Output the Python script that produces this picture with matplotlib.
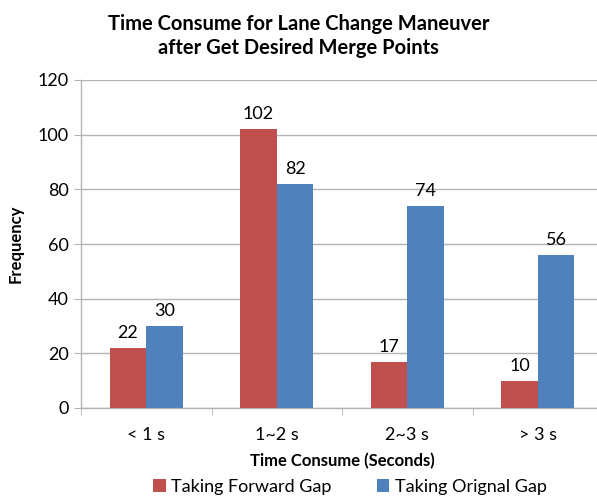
import matplotlib
matplotlib.use("Agg")
import numpy as np
from matplotlib import pyplot as plt

categories = ["< 1 s", "1~2 s", "2~3 s", "> 3 s"]
forward_gap = [22, 102, 17, 10]
original_gap = [30, 82, 74, 56]

RED = "#C0504D"
BLUE = "#4F81BD"
GRID = "#B3B3B3"

plt.rcParams["font.family"] = ["Lato", "DejaVu Sans"]

fig = plt.figure(figsize=(5.97, 4.97), dpi=100)
ax = fig.add_axes([81 / 597, 1 - 408 / 497, 522 / 597, 328 / 497])

x = np.arange(len(categories))
w = 0.28
b1 = ax.bar(x - w / 2, forward_gap, w, color=RED, label="Taking Forward Gap", zorder=3)
b2 = ax.bar(x + w / 2, original_gap, w, color=BLUE, label="Taking Orignal Gap", zorder=3)
ax.bar_label(b1, padding=5, fontsize=13)
ax.bar_label(b2, padding=5, fontsize=13)

ax.set_xlim(-0.5, 3.5)
ax.set_ylim(0, 120)
ax.set_yticks(range(0, 121, 20))
ax.yaxis.grid(True, color=GRID, linewidth=1.0, zorder=0)

ax.set_xticks(x)
ax.set_xticklabels(categories)
ax.set_xticks(np.arange(-0.5, 3.6, 1), minor=True)
ax.tick_params(axis="x", which="major", length=0, pad=14, labelsize=13)
ax.tick_params(axis="x", which="minor", length=5, color=GRID, direction="out")
ax.tick_params(axis="y", length=5, color=GRID, labelsize=13, pad=4)

for side in ["top", "right"]:
    ax.spines[side].set_visible(False)
for side in ["left", "bottom"]:
    ax.spines[side].set_color(GRID)
    ax.spines[side].set_linewidth(1.0)

ax.set_ylabel("Frequency", fontsize=12, fontweight="bold", labelpad=10)
ax.set_xlabel("Time Consume (Seconds)", fontsize=12, fontweight="bold", labelpad=7)

fig.text(0.5, 1 - 36 / 497, "Time Consume for Lane Change Maneuver\nafter Get Desired Merge Points",
         ha="center", va="center", fontsize=14.5, fontweight="bold", linespacing=1.3)

fig.legend(loc="center", bbox_to_anchor=(350 / 597, 1 - 487 / 497), ncol=2, frameon=False,
           fontsize=13, handlelength=0.7, handleheight=0.7, columnspacing=2.5, handletextpad=0.3,
           borderpad=0.1)

fig.savefig("out.png", dpi=100)
